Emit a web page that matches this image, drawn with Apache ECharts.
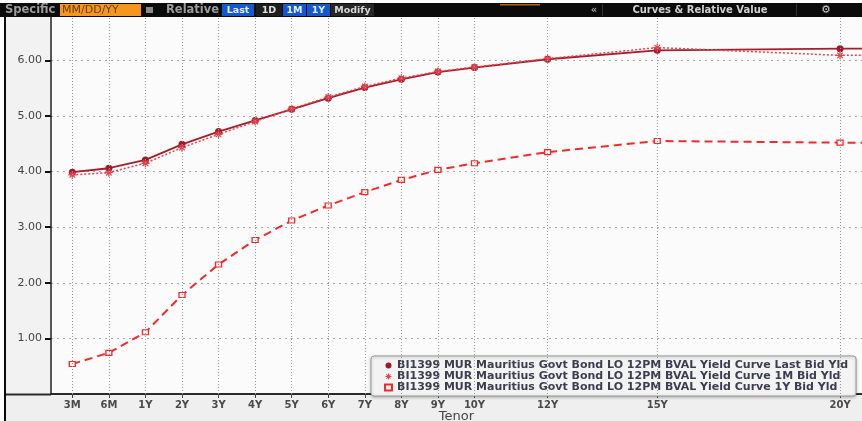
<!DOCTYPE html>
<html>
<head>
<meta charset="utf-8">
<script src="https://cdn.jsdelivr.net/npm/echarts@6/dist/echarts.min.js"></script>
<style>html,body{margin:0;padding:0;background:#efefef}#c{width:862px;height:421px}</style>
</head>
<body>
<div id="c"></div>
<script>
// ---- data ----
const tenorLabels = ['3M','6M','1Y','2Y','3Y','4Y','5Y','6Y','7Y','8Y','9Y','10Y','12Y','15Y','20Y','30Y'];
// axis value of each tenor (years, short end spaced one step apart)
const tenorAxisValue = [-1,0,1,2,3,4,5,6,7,8,9,10,12,15,20,30];
const shownTenorCount = 15;
const seriesNames = [
  'BI1399 MUR Mauritius Govt Bond LO 12PM BVAL Yield Curve Last Bid Yld',
  'BI1399 MUR Mauritius Govt Bond LO 12PM BVAL Yield Curve 1M Bid Yld',
  'BI1399 MUR Mauritius Govt Bond LO 12PM BVAL Yield Curve 1Y Bid Yld'
];
const lastBidYld = [3.99,4.06,4.21,4.49,4.72,4.92,5.12,5.32,5.51,5.66,5.79,5.87,6.02,6.18,6.21,6.23];
const m1BidYld   = [3.94,3.98,4.15,4.43,4.67,4.90,5.13,5.34,5.53,5.68,5.80,5.88,6.03,6.23,6.09,6.09];
const y1BidYld   = [0.54,0.74,1.11,1.78,2.33,2.77,3.12,3.39,3.63,3.85,4.03,4.15,4.35,4.55,4.52,4.52];
const yLabelValues = [1,2,3,4,5,6];

const pairs = arr => arr.map((v,i) => [tenorAxisValue[i], v]);
const labelOf = v => { const i = tenorAxisValue.indexOf(v); return i >= 0 ? tenorLabels[i] : ''; };
const shownTicks = tenorAxisValue.slice(0, shownTenorCount);

const asterisk = 'path://M0,4.2L10,4.2L10,5.8L0,5.8ZM4.2,0L5.8,0L5.8,10L4.2,10ZM1,2.1L2.1,1L9,7.9L7.9,9ZM7.9,1L9,2.1L2.1,9L1,7.9Z';

const chart = echarts.init(document.getElementById('c'), null, {renderer:'canvas'});
chart.setOption({
  backgroundColor: '#efefef',
  animation: false,
  grid: {left: 51, right: 0, top: 17, bottom: 27, show: true, backgroundColor: '#fbfbfb', borderWidth: 0,
    outerBoundsMode: 'none', containLabel: false},
  xAxis: {
    type: 'value', min: -1.583, max: 20.6,
    name: 'Tenor', nameLocation: 'middle', nameGap: 16, nameMoveOverlap: false,
    nameTextStyle: {fontFamily: 'DejaVu Sans', fontSize: 13, color: '#444'},
    axisLine: {show: true, onZero: false, lineStyle: {color: '#2a2a2a', width: 2}},
    axisTick: {show: true, customValues: shownTicks, length: 4, lineStyle: {color: '#444'}},
    axisLabel: {customValues: shownTicks, formatter: labelOf, margin: 6,
      fontFamily: 'DejaVu Sans', fontSize: 10, fontWeight: 'bold', color: '#4a4a4a'},
    splitLine: {show: false}
  },
  yAxis: {
    type: 'value', min: 0, max: 6.78, interval: 0.5,
    axisLine: {show: true, onZero: false, lineStyle: {color: '#222', width: 1.5}},
    axisTick: {show: true, customValues: yLabelValues, length: 6, lineStyle: {color: '#111', width: 2}},
    axisLabel: {customValues: yLabelValues, formatter: v => v.toFixed(2), margin: 9,
      fontFamily: 'DejaVu Sans', fontSize: 11, color: '#444'},
    splitLine: {show: true, lineStyle: {color: '#aaa', type: [2,4], width: 1}}
  },
  legend: {
    orient: 'vertical', left: 371, top: 356,
    padding: [4, 8, 3, 13], itemGap: 0, itemWidth: 7, itemHeight: 6,
    backgroundColor: '#f3f3f3', borderColor: '#9a9a9a', borderWidth: 1, borderRadius: 3,
    shadowBlur: 3, shadowColor: 'rgba(0,0,0,0.25)', shadowOffsetY: 1,
    textStyle: {fontFamily: 'DejaVu Sans', fontSize: 11, fontWeight: 'bold', color: '#3c3e50', lineHeight: 10},
    data: [
      {name: seriesNames[0], icon: 'circle'},
      {name: seriesNames[1], icon: asterisk},
      {name: seriesNames[2], icon: 'rect'}
    ]
  },
  series: [
    {
      name: '_grid', type: 'line', data: [], silent: true,
      markLine: {silent: true, symbol: ['none','none'], animation: false, label: {show: false},
        lineStyle: {color: '#999', type: [1,2], width: 1},
        data: shownTicks.map(v => ({xAxis: v}))}
    },
    {
      name: seriesNames[0], type: 'line', data: pairs(lastBidYld),
      symbol: 'circle', symbolSize: 7,
      lineStyle: {color: '#a51d2d', width: 1.8},
      itemStyle: {color: '#a3172a'}
    },
    {
      name: seriesNames[1], type: 'line', data: pairs(m1BidYld),
      symbol: asterisk, symbolSize: 8,
      lineStyle: {color: '#e5444c', width: 1.5, type: [2,2]},
      itemStyle: {color: '#e5444c'}
    },
    {
      name: seriesNames[2], type: 'line', data: pairs(y1BidYld),
      symbol: 'rect', symbolSize: [6,5],
      lineStyle: {color: '#f22a2a', width: 2, type: [8,5]},
      itemStyle: {color: '#fff4f4', borderColor: '#f22a2a', borderWidth: 1.2}
    }
  ],
  graphic: [
    {type: 'rect', shape: {x: 0, y: 0, width: 4, height: 421}, style: {fill: '#ffffff'}, z: 100},
    {type: 'rect', shape: {x: 4, y: 17, width: 2, height: 404}, style: {fill: '#0a0a0a'}, z: 100},
    {type: 'rect', shape: {x: 6, y: 17, width: 45, height: 377}, style: {fill: '#f2f2f2'}, z: -1},
    {type: 'line', shape: {x1: 6, y1: 394.5, x2: 51, y2: 394.5}, style: {stroke: '#2a2a2a', lineWidth: 2}, z: 100},
    {type: 'rect', shape: {x: 0, y: 0, width: 862, height: 3}, style: {fill: '#ffffff'}, z: 100},
    {type: 'rect', shape: {x: 0, y: 3, width: 862, height: 14}, style: {fill: '#0b0b0b'}, z: 100},
    {type: 'text', x: 5, y: 10.5, style: {text: 'Specific', fill: '#9c9c9c', font: 'bold 11.5px "DejaVu Sans"', verticalAlign: 'middle'}, z: 101},
    {type: 'rect', shape: {x: 60, y: 4, width: 81, height: 12}, style: {fill: '#f5961f'}, z: 101},
    {type: 'text', x: 62, y: 10.5, style: {text: 'MM/DD/YY', fill: '#6a3a08', font: '11px "DejaVu Sans"', verticalAlign: 'middle'}, z: 102},
    {type: 'rect', shape: {x: 146, y: 7, width: 7, height: 6}, style: {fill: '#8a8a8a'}, z: 101},
    {type: 'text', x: 166, y: 10.5, style: {text: 'Relative', fill: '#9c9c9c', font: 'bold 11.5px "DejaVu Sans"', verticalAlign: 'middle'}, z: 101},
    {type: 'rect', shape: {x: 222, y: 4, width: 32, height: 12}, style: {fill: '#1259cf'}, z: 101},
    {type: 'text', x: 238, y: 10.5, style: {text: 'Last', fill: '#e8eeff', font: 'bold 9.5px "DejaVu Sans"', align: 'center', verticalAlign: 'middle'}, z: 102},
    {type: 'rect', shape: {x: 256, y: 4, width: 26, height: 12}, style: {fill: '#1e1e1e'}, z: 101},
    {type: 'text', x: 269, y: 10.5, style: {text: '1D', fill: '#e0e0e0', font: 'bold 9.5px "DejaVu Sans"', align: 'center', verticalAlign: 'middle'}, z: 102},
    {type: 'rect', shape: {x: 283, y: 4, width: 23, height: 12}, style: {fill: '#1259cf'}, z: 101},
    {type: 'text', x: 294.5, y: 10.5, style: {text: '1M', fill: '#e8eeff', font: 'bold 9.5px "DejaVu Sans"', align: 'center', verticalAlign: 'middle'}, z: 102},
    {type: 'rect', shape: {x: 307, y: 4, width: 23, height: 12}, style: {fill: '#1259cf'}, z: 101},
    {type: 'text', x: 318.5, y: 10.5, style: {text: '1Y', fill: '#e8eeff', font: 'bold 9.5px "DejaVu Sans"', align: 'center', verticalAlign: 'middle'}, z: 102},
    {type: 'rect', shape: {x: 331, y: 4, width: 43, height: 12}, style: {fill: '#262626'}, z: 101},
    {type: 'text', x: 352.5, y: 10.5, style: {text: 'Modify', fill: '#d8d8d8', font: 'bold 9.5px "DejaVu Sans"', align: 'center', verticalAlign: 'middle'}, z: 102},
    {type: 'rect', shape: {x: 500, y: 4, width: 40, height: 1.5}, style: {fill: '#b0651a'}, z: 101},
    {type: 'rect', shape: {x: 602, y: 4, width: 1, height: 12}, style: {fill: '#333'}, z: 101},
    {type: 'rect', shape: {x: 796, y: 4, width: 1, height: 12}, style: {fill: '#333'}, z: 101},
    {type: 'text', x: 594, y: 10.5, style: {text: '«', fill: '#a8a8a8', font: 'bold 10px "DejaVu Sans"', align: 'center', verticalAlign: 'middle'}, z: 101},
    {type: 'text', x: 700, y: 10.5, style: {text: 'Curves & Relative Value', fill: '#d0d0d0', font: 'bold 10px "DejaVu Sans"', align: 'center', verticalAlign: 'middle'}, z: 101},
    {type: 'text', x: 826, y: 10.5, style: {text: '⚙', fill: '#d0d0d0', font: 'bold 11px "DejaVu Sans"', align: 'center', verticalAlign: 'middle'}, z: 101}
  ]
});
</script>
</body>
</html>
